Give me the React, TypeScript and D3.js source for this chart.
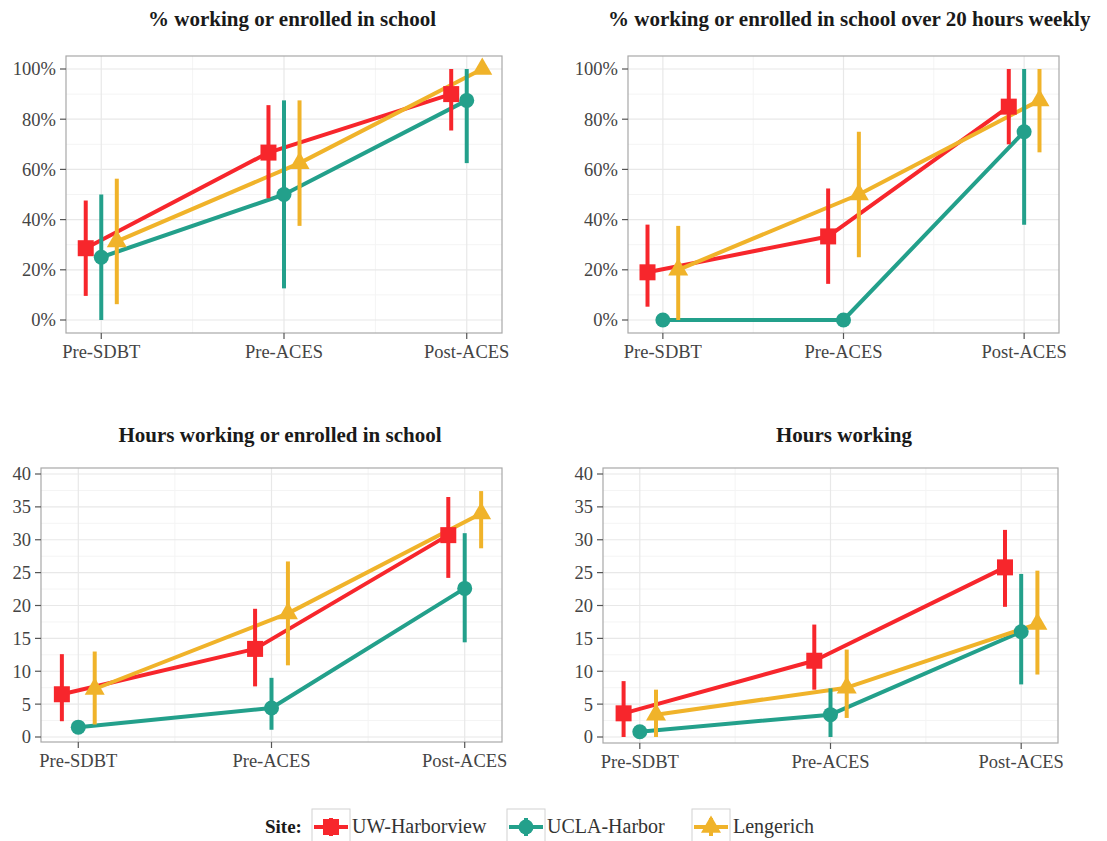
import * as d3 from "d3";

const phases = ["Pre-SDBT", "Pre-ACES", "Post-ACES"];
const sites = ["UW-Harborview", "UCLA-Harbor", "Lengerich"];
const siteColors = ["#F7262C", "#23A08B", "#F0B32A"];

// % working or enrolled in school
const pctAnyUW = [28.6, 66.7, 90];
const pctAnyUWLo = [9.6, 48.5, 75.5];
const pctAnyUWHi = [47.6, 85.6, 100];
const pctAnyUCLA = [25, 50, 87.5];
const pctAnyUCLALo = [0, 12.6, 62.5];
const pctAnyUCLAHi = [50, 87.5, 100];
const pctAnyLeng = [31.3, 62.5, 100];
const pctAnyLengLo = [6.3, 37.5, 100];
const pctAnyLengHi = [56.3, 87.5, 100];

// % working or enrolled in school over 20 hours weekly
const pct20UW = [19, 33.3, 85];
const pct20UWLo = [5.3, 14.4, 70];
const pct20UWHi = [38, 52.4, 100];
const pct20UCLA = [0, 0, 75];
const pct20UCLALo = [0, 0, 37.9];
const pct20UCLAHi = [0, 0, 100];
const pct20Leng = [20, 50, 87.5];
const pct20LengLo = [0, 25, 66.8];
const pct20LengHi = [37.5, 75, 100];

// Hours working or enrolled in school
const hrsAnyUW = [6.5, 13.4, 30.7];
const hrsAnyUWLo = [2.4, 7.7, 24.2];
const hrsAnyUWHi = [12.6, 19.5, 36.5];
const hrsAnyUCLA = [1.5, 4.4, 22.6];
const hrsAnyUCLALo = [0.6, 1.1, 14.4];
const hrsAnyUCLAHi = [2.4, 9.0, 31.0];
const hrsAnyLeng = [7.3, 18.8, 34];
const hrsAnyLengLo = [1.9, 10.9, 28.7];
const hrsAnyLengHi = [13.0, 26.7, 37.4];

// Hours working
const hrsWorkUW = [3.6, 11.6, 25.8];
const hrsWorkUWLo = [0, 7.2, 19.8];
const hrsWorkUWHi = [8.5, 17.1, 31.5];
const hrsWorkUCLA = [0.8, 3.4, 16.0];
const hrsWorkUCLALo = [0.1, 0, 8.0];
const hrsWorkUCLAHi = [1.4, 7.4, 24.8];
const hrsWorkLeng = [3.4, 7.5, 17.2];
const hrsWorkLengLo = [0, 2.9, 9.5];
const hrsWorkLengHi = [7.2, 13.3, 25.3];

const pctTicks = [0, 20, 40, 60, 80, 100];
const hrsTicks = [0, 5, 10, 15, 20, 25, 30, 35, 40];

const FONT = "'Liberation Serif', 'Times New Roman', serif";
const DODGE = 0.085;

interface PanelProps {
  title: string;
  titleX: number;
  titleAnchor: "start" | "middle";
  titleY: number;
  vals: number[][];
  lo: number[][];
  hi: number[][];
  ticks: number[];
  fmt: (v: number) => string;
  left: number;
  right: number;
  top: number;
  bottom: number;
  y0: number;
  yTop: number;
}

function Marker({ i, x, y }: { i: number; x: number; y: number }) {
  const c = siteColors[i];
  if (i === 0) return <rect x={x - 8} y={y - 8} width={16} height={16} fill={c} />;
  if (i === 1) return <circle cx={x} cy={y} r={7.5} fill={c} />;
  const r = 11.5;
  const pts = [
    [x, y - r],
    [x + r * 0.87, y + r / 2],
    [x - r * 0.87, y + r / 2],
  ];
  return <polygon points={pts.map((p) => p.join(",")).join(" ")} fill={c} />;
}

function Panel(p: PanelProps) {
  const x = d3.scaleLinear().domain([0.807, 3.193]).range([p.left, p.right]);
  const yMax = p.ticks[p.ticks.length - 1];
  const y = d3.scaleLinear().domain([0, yMax]).range([p.y0, p.yTop]);
  const step = p.ticks[1] - p.ticks[0];
  const minorY = p.ticks.slice(0, -1).map((t) => t + step / 2);
  const line = d3
    .line<[number, number]>()
    .x((d) => d[0])
    .y((d) => d[1]);

  return (
    <g>
      <text
        x={p.titleX}
        y={p.titleY}
        textAnchor={p.titleAnchor}
        fontFamily={FONT}
        fontWeight="bold"
        fontSize={21}
        fill="#1a1a1a"
      >
        {p.title}
      </text>
      <rect x={p.left} y={p.top} width={p.right - p.left} height={p.bottom - p.top} fill="#fff" />
      {minorY.map((t) => (
        <line key={"my" + t} x1={p.left} x2={p.right} y1={y(t)} y2={y(t)} stroke="#f4f4f4" strokeWidth={1} />
      ))}
      {[1.5, 2.5].map((t) => (
        <line key={"mx" + t} x1={x(t)} x2={x(t)} y1={p.top} y2={p.bottom} stroke="#f4f4f4" strokeWidth={1} />
      ))}
      {p.ticks.map((t) => (
        <line key={"gy" + t} x1={p.left} x2={p.right} y1={y(t)} y2={y(t)} stroke="#e8e8e8" strokeWidth={1.2} />
      ))}
      {[1, 2, 3].map((t) => (
        <line key={"gx" + t} x1={x(t)} x2={x(t)} y1={p.top} y2={p.bottom} stroke="#e8e8e8" strokeWidth={1.2} />
      ))}
      {/* series lines */}
      {sites.map((s, i) => (
        <path
          key={"l" + s}
          d={line(p.vals[i].map((v, j) => [x(j + 1 + (i - 1) * DODGE), y(v)])) || ""}
          fill="none"
          stroke={siteColors[i]}
          strokeWidth={4}
          strokeLinejoin="round"
        />
      ))}
      {/* error bars */}
      {sites.map((s, i) =>
        p.vals[i].map((v, j) => {
          const cx = x(j + 1 + (i - 1) * DODGE);
          return (
            <line
              key={"e" + s + j}
              x1={cx}
              x2={cx}
              y1={y(p.lo[i][j])}
              y2={y(p.hi[i][j])}
              stroke={siteColors[i]}
              strokeWidth={4}
            />
          );
        })
      )}
      {sites.map((s, i) =>
        p.vals[i].map((v, j) => (
          <Marker key={"m" + s + j} i={i} x={x(j + 1 + (i - 1) * DODGE)} y={y(v)} />
        ))
      )}
      <rect
        x={p.left}
        y={p.top}
        width={p.right - p.left}
        height={p.bottom - p.top}
        fill="none"
        stroke="#a8a8a8"
        strokeWidth={1.2}
      />
      {/* y axis */}
      {p.ticks.map((t) => (
        <g key={"yt" + t}>
          <line x1={p.left - 6} x2={p.left} y1={y(t)} y2={y(t)} stroke="#555" strokeWidth={1.2} />
          <text
            x={p.left - 10}
            y={y(t)}
            dy="0.35em"
            textAnchor="end"
            fontFamily={FONT}
            fontSize={18.5}
            fill="#444"
          >
            {p.fmt(t)}
          </text>
        </g>
      ))}
      {/* x axis */}
      {phases.map((ph, j) => (
        <g key={"xt" + ph}>
          <line x1={x(j + 1)} x2={x(j + 1)} y1={p.bottom} y2={p.bottom + 6} stroke="#555" strokeWidth={1.2} />
          <text
            x={x(j + 1)}
            y={p.bottom + 25}
            textAnchor="middle"
            fontFamily={FONT}
            fontSize={18.5}
            fill="#444"
          >
            {ph}
          </text>
        </g>
      ))}
    </g>
  );
}

const legendBoxX = [312, 507, 692];
const legendTextX = [352, 547, 733];

export default function App() {
  const pct = (v: number) => `${v}%`;
  const num = (v: number) => `${v}`;
  const panels: PanelProps[] = [
    {
      title: "% working or enrolled in school",
      titleX: 292,
      titleAnchor: "middle",
      titleY: 26,
      vals: [pctAnyUW, pctAnyUCLA, pctAnyLeng],
      lo: [pctAnyUWLo, pctAnyUCLALo, pctAnyLengLo],
      hi: [pctAnyUWHi, pctAnyUCLAHi, pctAnyLengHi],
      ticks: pctTicks,
      fmt: pct,
      left: 66,
      right: 502,
      top: 56,
      bottom: 333,
      y0: 320,
      yTop: 69,
    },
    {
      title: "% working or enrolled in school over 20 hours weekly",
      titleX: 608,
      titleAnchor: "start",
      titleY: 26,
      vals: [pct20UW, pct20UCLA, pct20Leng],
      lo: [pct20UWLo, pct20UCLALo, pct20LengLo],
      hi: [pct20UWHi, pct20UCLAHi, pct20LengHi],
      ticks: pctTicks,
      fmt: pct,
      left: 628,
      right: 1059,
      top: 56,
      bottom: 333,
      y0: 320,
      yTop: 69,
    },
    {
      title: "Hours working or enrolled in school",
      titleX: 280,
      titleAnchor: "middle",
      titleY: 442,
      vals: [hrsAnyUW, hrsAnyUCLA, hrsAnyLeng],
      lo: [hrsAnyUWLo, hrsAnyUCLALo, hrsAnyLengLo],
      hi: [hrsAnyUWHi, hrsAnyUCLAHi, hrsAnyLengHi],
      ticks: hrsTicks,
      fmt: num,
      left: 41,
      right: 502,
      top: 468,
      bottom: 742,
      y0: 737,
      yTop: 474,
    },
    {
      title: "Hours working",
      titleX: 844,
      titleAnchor: "middle",
      titleY: 442,
      vals: [hrsWorkUW, hrsWorkUCLA, hrsWorkLeng],
      lo: [hrsWorkUWLo, hrsWorkUCLALo, hrsWorkLengLo],
      hi: [hrsWorkUWHi, hrsWorkUCLAHi, hrsWorkLengHi],
      ticks: hrsTicks,
      fmt: num,
      left: 603,
      right: 1058,
      top: 468,
      bottom: 743,
      y0: 737,
      yTop: 474,
    },
  ];

  const legendY = 827;

  return (
    <svg
      width={1107}
      height={841}
      style={{ position: "absolute", left: 0, top: 0, background: "#fff" }}
    >
      <rect width={1107} height={841} fill="#fff" />
      {panels.map((p) => (
        <Panel key={p.title} {...p} />
      ))}
      {/* legend */}
      <text x={265} y={legendY + 6} fontFamily={FONT} fontWeight="bold" fontSize={19} fill="#1a1a1a">
        Site:
      </text>
      {sites.map((s, i) => {
        const bx = legendBoxX[i];
        const cx = bx + 19;
        return (
          <g key={"lg" + s}>
            <rect x={bx} y={legendY - 18} width={38} height={36} fill="#fff" stroke="#d2d2d2" strokeWidth={1} />
            <line x1={bx + 2} x2={bx + 36} y1={legendY} y2={legendY} stroke={siteColors[i]} strokeWidth={4} />
            <line x1={cx} x2={cx} y1={legendY - 9} y2={legendY + 9} stroke={siteColors[i]} strokeWidth={4} />
            <Marker i={i} x={cx} y={legendY} />
            <text x={legendTextX[i]} y={legendY + 6} fontFamily={FONT} fontSize={20} fill="#333">
              {s}
            </text>
          </g>
        );
      })}
    </svg>
  );
}
